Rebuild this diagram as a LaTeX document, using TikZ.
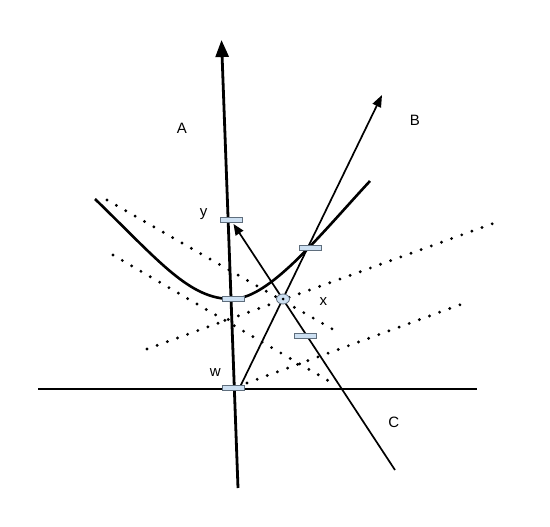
\documentclass[tikz,border=0pt]{standalone}
\usepackage{fontspec}
\setmainfont{Liberation Sans}
\usetikzlibrary{arrows.meta,shapes.geometric}

\definecolor{slotfill}{RGB}{205,224,242}
\definecolor{slotedge}{RGB}{95,110,125}

\tikzset{
  heavy/.style={line width=2.6pt},
  light/.style={line width=1.7pt},
  dots/.style={line width=3.2pt,line cap=round,dash pattern=on 0pt off 10.8pt},
  slot/.style={rectangle,draw=slotedge,fill=slotfill,line width=0.8pt,minimum width=22pt,minimum height=5.5pt,inner sep=0pt},
  ring/.style={ellipse,draw=slotedge,fill=slotfill,line width=0.8pt,minimum width=13pt,minimum height=10pt,inner sep=0pt},
  lbl/.style={font=\fontsize{15}{18}\selectfont,inner sep=0pt,anchor=base}
}

\begin{document}
\begin{tikzpicture}[x=1pt,y=-1pt]
  \useasboundingbox (0,0) rectangle (550,527);

  % places
  \coordinate (axbot) at (238,488);
  \coordinate (axtop) at (221.5,40);
  \coordinate (hleft) at (38,389);
  \coordinate (hright) at (477,389);
  \coordinate (bstart) at (239,389);
  \coordinate (btip) at (382,95);
  \coordinate (cbot) at (395,470);
  \coordinate (ctip) at (233.5,224);
  \coordinate (pleft) at (95,199);
  \coordinate (pright) at (370,181);
  \coordinate (vy) at (231,220);
  \coordinate (vmin) at (233,299);
  \coordinate (vtop) at (310,248);
  \coordinate (vlow) at (305,336);
  \coordinate (vw) at (233,388);
  \coordinate (vx) at (283,299);

  % dotted guides
  \coordinate (d1a) at (107,200);  \coordinate (d1b) at (334,330);
  \coordinate (d2a) at (113,255);  \coordinate (d2b) at (334,384);
  \coordinate (d3a) at (147,349);  \coordinate (d3b) at (500,221);
  \coordinate (d4a) at (247,383);  \coordinate (d4b) at (462,304);
  \draw[dots] (d1a) -- (d1b);
  \draw[dots] (d2a) -- (d2b);
  \draw[dots] (d3a) -- (d3b);
  \draw[dots] (d4a) -- (d4b);

  % axes and rays
  \draw[heavy] (hleft) -- (hright);
  \draw[heavy,line width=2.8pt,-{Triangle[length=17pt,width=13pt]}] (axbot) -- (axtop);
  \draw[light,-{Triangle[length=12pt,width=9pt]}] (bstart) -- (btip);
  \draw[light,-{Triangle[length=11pt,width=9pt]}] (cbot) -- (ctip);

  % curve
  \draw[heavy] (pleft) .. controls (160,262) and (190,300) .. (vmin)
    .. controls (270,298) and (320,235) .. (pright);

  % markers
  \node[slot] (sy) at (vy) {};
  \node[slot] (smin) at (vmin) {};
  \node[slot] (stop) at (vtop) {};
  \node[slot] (slow) at (vlow) {};
  \node[slot] (sw) at (vw) {};
  \node[ring] (px) at (vx) {};
  \fill (px.center) circle (1.5);

  % labels
  \node[lbl] (la) at (182,134) {A};
  \node[lbl] (lb) at (415,125.7) {B};
  \node[lbl] (lc) at (393.7,427.5) {C};
  \node[lbl] (ly) at (203.7,216.5) {y};
  \node[lbl] (lx) at (323.3,305.3) {x};
  \node[lbl] (lw) at (215.3,376.7) {w};
\end{tikzpicture}
\end{document}
